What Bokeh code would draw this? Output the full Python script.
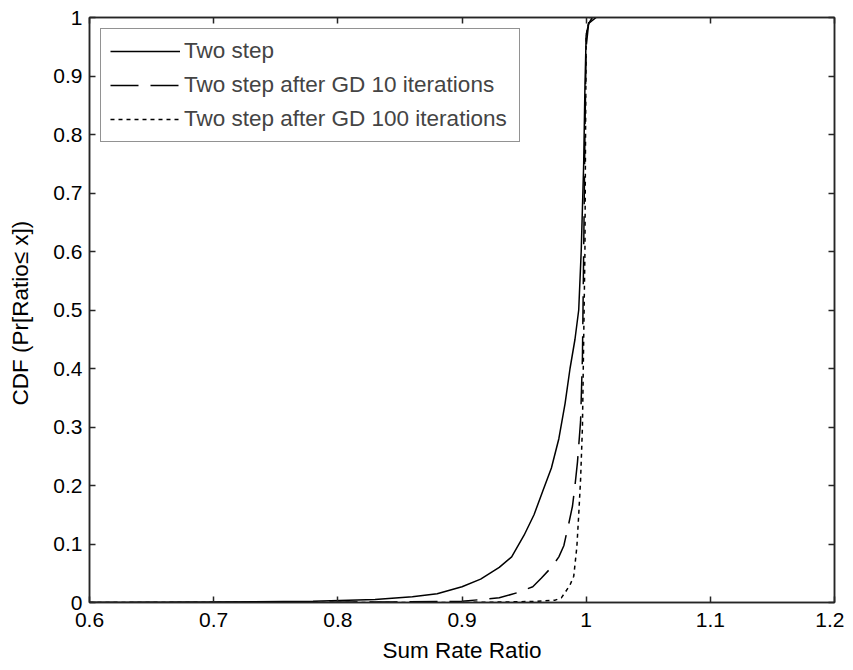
from bokeh.plotting import figure
from bokeh.models import LinearAxis, FixedTicker, Legend, LegendItem, Range1d
from bokeh.embed import file_html
from bokeh.resources import INLINE

# ---- data ----
solid_x = [0.60, 0.70, 0.78, 0.83, 0.86, 0.88, 0.90, 0.915, 0.93, 0.94, 0.95, 0.958, 0.965,
           0.972, 0.978, 0.983, 0.987, 0.991, 0.994, 0.996, 0.998, 0.999, 1.000, 1.002, 1.008]
solid_y = [0.000, 0.001, 0.002, 0.005, 0.010, 0.015, 0.027, 0.040, 0.060, 0.078, 0.115, 0.150, 0.190,
           0.230, 0.280, 0.340, 0.400, 0.450, 0.500, 0.600, 0.750, 0.880, 0.970, 0.990, 1.000]

dashed_x = [0.60, 0.75, 0.85, 0.90, 0.93, 0.945, 0.957, 0.964, 0.972, 0.978, 0.982, 0.986,
            0.989, 0.991, 0.993, 0.9955, 0.997, 0.998, 0.999, 1.000, 1.002, 1.005]
dashed_y = [0.000, 0.000, 0.001, 0.002, 0.008, 0.017, 0.027, 0.042, 0.060, 0.078, 0.097, 0.135,
            0.165, 0.200, 0.240, 0.310, 0.420, 0.600, 0.800, 0.950, 0.990, 1.000]

dotted_x = [0.60, 0.90, 0.94, 0.96, 0.975, 0.980, 0.983, 0.987, 0.990, 0.9925, 0.994, 0.9955,
            0.997, 0.998, 0.999, 0.9995, 1.000, 1.003]
dotted_y = [0.000, 0.000, 0.001, 0.002, 0.004, 0.008, 0.017, 0.030, 0.045, 0.095, 0.150, 0.210,
            0.300, 0.450, 0.600, 0.800, 0.970, 1.000]

series_names = ["Two step", "Two step after GD 10 iterations", "Two step after GD 100 iterations"]
x_ticks = [0.6, 0.7, 0.8, 0.9, 1.0, 1.1, 1.2]
x_tick_labels = ["0.6", "0.7", "0.8", "0.9", "1", "1.1", "1.2"]
y_ticks = [0, 0.1, 0.2, 0.3, 0.4, 0.5, 0.6, 0.7, 0.8, 0.9, 1.0]
y_tick_labels = ["0", "0.1", "0.2", "0.3", "0.4", "0.5", "0.6", "0.7", "0.8", "0.9", "1"]

FONT = "Liberation Sans"
TICK_FS = "21px"
LABEL_FS = "22.5px"
LEG_FS = "22.5px"
AXC = "#262626"

p = figure(frame_width=745, frame_height=585, output_backend="svg", toolbar_location=None,
           x_range=Range1d(0.6, 1.2), y_range=Range1d(0, 1),
           min_border_left=89, min_border_top=17, min_border_right=10, min_border_bottom=40,
           x_axis_label="Sum Rate Ratio", y_axis_label="CDF  (Pr[Ratio\u2264 x])")
p.grid.visible = False
p.outline_line_color = AXC
p.outline_line_width = 1.5
p.background_fill_color = "white"
p.border_fill_color = "white"

r1 = p.line(solid_x, solid_y, line_color="black", line_width=1.5)
r2 = p.line(dashed_x, dashed_y, line_color="black", line_width=1.5, line_dash="28 12")
r3 = p.line(dotted_x, dotted_y, line_color="black", line_width=1.5, line_dash="4 4")

def style_axis(ax, labels=True):
    ax.axis_line_color = AXC
    ax.axis_line_width = 1.5
    ax.major_tick_line_color = AXC
    ax.major_tick_line_width = 1.5
    ax.major_tick_in = 6
    ax.major_tick_out = 0
    ax.minor_tick_line_color = None
    ax.major_label_text_font = FONT
    ax.major_label_text_color = "black"
    ax.axis_label_text_font = FONT
    ax.axis_label_text_font_style = "normal"
    ax.axis_label_text_font_size = LABEL_FS
    ax.axis_label_text_color = "black"
    if labels:
        ax.major_label_text_font_size = TICK_FS
    else:
        ax.major_label_text_font_size = "0px"
        ax.major_label_standoff = 0

xa = p.xaxis[0]
ya = p.yaxis[0]
xa.ticker = FixedTicker(ticks=x_ticks)
ya.ticker = FixedTicker(ticks=y_ticks)
xa.major_label_overrides = {t: l for t, l in zip(x_ticks, x_tick_labels)}
ya.major_label_overrides = {t: l for t, l in zip(y_ticks, y_tick_labels)}
style_axis(xa)
style_axis(ya)
xa.major_label_standoff = 10
xa.axis_label_standoff = 8
ya.major_label_standoff = 7
ya.axis_label_standoff = 17

top = LinearAxis(ticker=FixedTicker(ticks=x_ticks))
right = LinearAxis(ticker=FixedTicker(ticks=y_ticks))
style_axis(top, labels=False)
style_axis(right, labels=False)
p.add_layout(top, "above")
p.add_layout(right, "right")

legend = Legend(items=[LegendItem(label=n, renderers=[r]) for n, r in zip(series_names, [r1, r2, r3])],
                location="top_left")
legend.margin = 11
legend.padding = 9
legend.spacing = 8
legend.glyph_width = 70
legend.glyph_height = 26
legend.label_height = 26
legend.label_width = 326
legend.label_standoff = 4
legend.label_text_font = FONT
legend.label_text_font_size = LEG_FS
legend.border_line_color = AXC
legend.border_line_width = 1.5
legend.background_fill_alpha = 1.0
p.add_layout(legend, "center")

open("out.html", "w").write(file_html(p, INLINE))
